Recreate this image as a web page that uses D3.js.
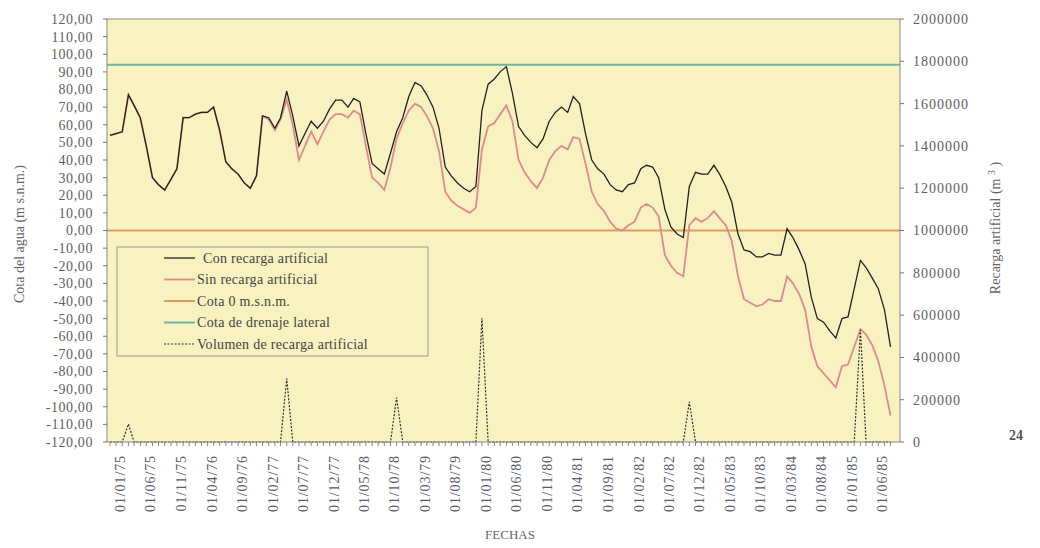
<!DOCTYPE html>
<html>
<head>
<meta charset="utf-8">
<script src="https://cdnjs.cloudflare.com/ajax/libs/d3/7.8.5/d3.min.js"></script>
<style>
body { margin: 0; background: #fff; }
text { font-family: "Liberation Serif", "Times New Roman", serif; }
</style>
</head>
<body>
<svg id="svg1" width="1040" height="548"></svg>
<script>

// monthly series, 01/11/74 .. 01/07/85
var firstMonth = "01/11/74";
var lastMonth = "01/07/85";

var conRecarga = [
  54,55,56,77,71,64,48,30,26,23,
  29,35,64,64,66,67,67,70,57,39,
  35,32,27,24,31,65,64,58,64,79,
  65,48,55,62,58,62,69,74,74,70,
  75,73,55,38,35,32,44,56,64,76,
  84,82,77,70,58,36,31,27,24,22,
  25,68,83,86,90,93,78,59,54,50,
  47,52,62,67,70,67,76,72,55,40,
  35,32,26,23,22,26,27,35,37,36,
  30,12,2,-2,-4,25,33,32,32,37,
  32,25,16,-2,-11,-12,-15,-15,-13,-14,
  -14,1,-4,-11,-19,-38,-50,-52,-57,-61,
  -50,-49,-33,-17,-21,-27,-33,-45,-66
];

var sinRecarga = [
  54,55,56,77,71,64,48,30,26,23,
  29,35,64,64,66,67,67,70,57,39,
  35,32,27,24,31,65,63,57,63,74,
  60,40,48,56,49,56,63,66,66,64,
  68,66,48,30,27,23,36,52,61,68,
  72,70,65,58,45,22,17,14,12,10,
  13,46,59,61,66,71,62,40,33,28,
  24,30,40,45,48,46,53,52,38,22,
  15,11,5,1,0,3,5,13,15,13,
  8,-14,-20,-24,-26,3,7,5,7,11,
  7,3,-6,-26,-39,-41,-43,-42,-39,-40,
  -40,-26,-30,-36,-45,-66,-77,-81,-85,-89,
  -77,-76,-66,-56,-59,-65,-74,-88,-105
];

var volumen = [
  0,0,0,85000,0,0,0,0,0,0,
  0,0,0,0,0,0,0,0,0,0,
  0,0,0,0,0,0,0,0,0,300000,
  0,0,0,0,0,0,0,0,0,0,
  0,0,0,0,0,0,0,210000,0,0,
  0,0,0,0,0,0,0,0,0,0,
  0,585000,0,0,0,0,0,0,0,0,
  0,0,0,0,0,0,0,0,0,0,
  0,0,0,0,0,0,0,0,0,0,
  0,0,0,0,0,190000,0,0,0,0,
  0,0,0,0,0,0,0,0,0,0,
  0,0,0,0,0,0,0,0,0,0,
  0,0,0,530000,0,0,0,0,0
];

var cotaCero = 0;
var cotaDrenaje = 94;

var leftTicks = [120,110,100,90,80,70,60,50,40,30,20,10,0,-10,-20,-30,-40,-50,-60,-70,-80,-90,-100,-110,-120];
var rightTicks = [0,200000,400000,600000,800000,1000000,1200000,1400000,1600000,1800000,2000000];
var fechaLabels = ["01/01/75","01/06/75","01/11/75","01/04/76","01/09/76","01/02/77","01/07/77","01/12/77",
  "01/05/78","01/10/78","01/03/79","01/08/79","01/01/80","01/06/80","01/11/80","01/04/81","01/09/81",
  "01/02/82","01/07/82","01/12/82","01/05/83","01/10/83","01/03/84","01/08/84","01/01/85","01/06/85"];

var leyenda = [
  {name: "Con recarga artificial", color: "#222", width: 1.3, dash: null},
  {name: "Sin recarga artificial", color: "#e08a8c", width: 1.8, dash: null},
  {name: "Cota 0 m.s.n.m.", color: "#d99e62", width: 2, dash: null},
  {name: "Cota de drenaje lateral", color: "#6ab5a4", width: 2, dash: null},
  {name: "Volumen de recarga artificial", color: "#333", width: 1.2, dash: "2,1.5"}
];

var pLeft = 107, pRight = 900, pTop = 19, pBottom = 442;
var bg = "#f8f2c0";
var parse = d3.timeParse("%d/%m/%y");
var months = d3.timeMonth.range(parse(firstMonth), d3.timeMonth.offset(parse(lastMonth), 1));

var x = d3.scaleTime()
  .domain([months[0], months[months.length - 1]])
  .range([110, 890.5]);
var y = d3.scaleLinear().domain([-120, 120]).range([pBottom, pTop]);
var yR = d3.scaleLinear().domain([0, 2000000]).range([pBottom, pTop]);

var svg1 = d3.select("#svg1");

svg1.append("rect")
  .attr("x", pLeft).attr("y", pTop)
  .attr("width", pRight - pLeft).attr("height", pBottom - pTop)
  .attr("fill", bg);

// horizontal reference lines
svg1.append("line")
  .attr("x1", pLeft).attr("x2", pRight)
  .attr("y1", y(cotaCero)).attr("y2", y(cotaCero))
  .attr("stroke", leyenda[2].color).attr("stroke-width", 2);
svg1.append("line")
  .attr("x1", pLeft).attr("x2", pRight)
  .attr("y1", y(cotaDrenaje)).attr("y2", y(cotaDrenaje))
  .attr("stroke", leyenda[3].color).attr("stroke-width", 2);

var line = d3.line()
  .x(function(d, i) { return x(months[i]); })
  .y(function(d) { return y(d); });
var lineR = d3.line()
  .x(function(d, i) { return x(months[i]); })
  .y(function(d) { return yR(d); });

svg1.append("path")
  .datum(sinRecarga)
  .attr("d", line)
  .attr("fill", "none")
  .attr("stroke", leyenda[1].color)
  .attr("stroke-width", leyenda[1].width);

svg1.append("path")
  .datum(conRecarga)
  .attr("d", line)
  .attr("fill", "none")
  .attr("stroke", leyenda[0].color)
  .attr("stroke-width", leyenda[0].width);

svg1.append("path")
  .datum(volumen)
  .attr("d", lineR)
  .attr("fill", "none")
  .attr("stroke", leyenda[4].color)
  .attr("stroke-width", leyenda[4].width)
  .attr("stroke-dasharray", leyenda[4].dash);

// frame
svg1.append("rect")
  .attr("x", pLeft).attr("y", pTop)
  .attr("width", pRight - pLeft).attr("height", pBottom - pTop)
  .attr("fill", "none")
  .attr("stroke", "#8a8a80")
  .attr("stroke-width", 1);

// left axis
var gL = svg1.append("g");
gL.selectAll("line")
  .data(leftTicks)
  .enter()
  .append("line")
  .attr("x1", pLeft - 4).attr("x2", pLeft)
  .attr("y1", function(d) { return y(d); })
  .attr("y2", function(d) { return y(d); })
  .attr("stroke", "#777");
gL.selectAll("text")
  .data(leftTicks)
  .enter()
  .append("text")
  .attr("x", 93)
  .attr("y", function(d) { return y(d); })
  .attr("dy", "0.35em")
  .attr("text-anchor", "end")
  .style("font-size", "14px")
  .style("letter-spacing", "0.6px")
  .style("fill", "#5f5f5f")
  .text(function(d) { return d.toFixed(2).replace(".", ","); });

// right axis
var gR = svg1.append("g");
gR.selectAll("line")
  .data(rightTicks)
  .enter()
  .append("line")
  .attr("x1", pRight).attr("x2", pRight + 4)
  .attr("y1", function(d) { return yR(d); })
  .attr("y2", function(d) { return yR(d); })
  .attr("stroke", "#777");
gR.selectAll("text")
  .data(rightTicks)
  .enter()
  .append("text")
  .attr("x", 913)
  .attr("y", function(d) { return yR(d); })
  .attr("dy", "0.35em")
  .style("font-size", "14px")
  .style("letter-spacing", "1px")
  .style("fill", "#5f5f5f")
  .text(function(d) { return d; });

// x axis: monthly ticks, labels every 5 months
svg1.append("g")
  .selectAll("line")
  .data(months)
  .enter()
  .append("line")
  .attr("x1", function(d) { return x(d); })
  .attr("x2", function(d) { return x(d); })
  .attr("y1", pBottom).attr("y2", pBottom + 4)
  .attr("stroke", "#888");

svg1.append("g")
  .selectAll("text")
  .data(fechaLabels)
  .enter()
  .append("text")
  .attr("transform", function(d) { return "translate(" + (x(parse(d)) - 2) + "," + 455 + ") rotate(-90)"; })
  .attr("dy", "0.35em")
  .attr("text-anchor", "end")
  .style("font-size", "14px")
  .style("letter-spacing", "0.9px")
  .style("fill", "#5a5a6a")
  .text(function(d) { return d; });

// titles
svg1.append("text")
  .attr("transform", "translate(24,234) rotate(-90)")
  .attr("text-anchor", "middle")
  .style("font-size", "14px")
  .style("fill", "#666")
  .text("Cota del agua (m s.n.m.)");

var tR = svg1.append("text")
  .attr("transform", "translate(1000,228) rotate(-90)")
  .attr("text-anchor", "middle")
  .style("font-size", "14px")
  .style("fill", "#666");
tR.append("tspan").text("Recarga artificial (m ");
tR.append("tspan").attr("dy", "-5").style("font-size", "10px").text("3");
tR.append("tspan").attr("dy", "5").text(" )");

svg1.append("text")
  .attr("x", 510).attr("y", 539)
  .attr("text-anchor", "middle")
  .style("font-size", "13px")
  .style("fill", "#666")
  .text("FECHAS");

svg1.append("text")
  .attr("x", 1016).attr("y", 440)
  .attr("text-anchor", "middle")
  .style("font-size", "14px")
  .style("font-weight", "bold")
  .style("fill", "#555")
  .text("24");

// legend
var lg = svg1.append("g");
lg.append("rect")
  .attr("x", 117).attr("y", 247)
  .attr("width", 311).attr("height", 109)
  .attr("fill", bg)
  .attr("stroke", "#9a9a90");
var rows = lg.selectAll("g.row")
  .data(leyenda)
  .enter()
  .append("g")
  .attr("class", "row")
  .attr("transform", function(d, i) { return "translate(0," + (258 + i * 21.5) + ")"; });
rows.append("line")
  .attr("x1", 164).attr("x2", 195)
  .attr("stroke", function(d) { return d.color; })
  .attr("stroke-width", function(d) { return d.width; })
  .attr("stroke-dasharray", function(d) { return d.dash; });
rows.append("text")
  .attr("x", function(d, i) { return i == 0 ? 203 : 197; })
  .attr("dy", "0.35em")
  .style("font-size", "14px")
  .style("letter-spacing", "0.3px")
  .style("fill", "#444")
  .text(function(d) { return d.name; });

</script>
</body>
</html>
